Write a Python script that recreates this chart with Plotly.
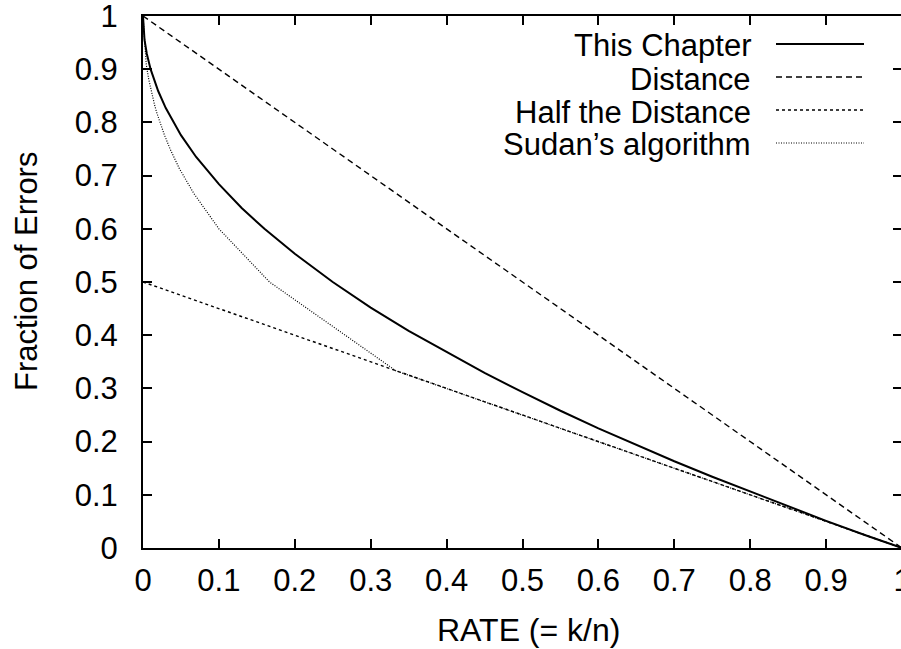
import plotly.graph_objects as go

# ---- data ----
rate_chapter = [0, 0.002, 0.005, 0.01, 0.02, 0.03, 0.05, 0.07, 0.1, 0.13, 0.16, 0.2,
                0.25, 0.3, 0.35, 0.4, 0.45, 0.5, 0.55, 0.6, 0.65, 0.7, 0.75, 0.8,
                0.85, 0.9, 0.95, 1.0]
err_chapter = [1.0, 0.955, 0.929, 0.90, 0.859, 0.827, 0.776, 0.735, 0.684, 0.639, 0.60,
               0.553, 0.50, 0.452, 0.408, 0.368, 0.329, 0.293, 0.258, 0.225, 0.194,
               0.163, 0.134, 0.106, 0.078, 0.051, 0.025, 0.0]

rate_distance = [0.0, 1.0]
err_distance = [1.0, 0.0]

rate_half = [0.0, 1.0]
err_half = [0.5, 0.0]

rate_sudan = [0.0, 0.0043, 0.0074, 0.011, 0.0152, 0.0182, 0.0222, 0.0278, 0.0357,
              0.0476, 0.0667, 0.1, 0.1667, 0.3333, 1.0]
err_sudan = [1.0, 0.909, 0.882, 0.857, 0.833, 0.818, 0.80, 0.778, 0.75,
             0.714, 0.667, 0.60, 0.50, 0.333, 0.0]

x_ticks = [0, 0.1, 0.2, 0.3, 0.4, 0.5, 0.6, 0.7, 0.8, 0.9, 1]
x_tick_text = ["0", "0.1", "0.2", "0.3", "0.4", "0.5", "0.6", "0.7", "0.8", "0.9", "1"]
y_ticks = [0, 0.1, 0.2, 0.3, 0.4, 0.5, 0.6, 0.7, 0.8, 0.9, 1]
y_tick_text = ["0", "0.1", "0.2", "0.3", "0.4", "0.5", "0.6", "0.7", "0.8", "0.9", "1"]

series_names = ["This Chapter", "Distance", "Half the Distance", "Sudan\u2019s algorithm"]

FONT = "Liberation Sans, Arial, Helvetica, sans-serif"
styles = [
    dict(color="black", width=2.0, dash="solid"),
    dict(color="black", width=1.4, dash="6px,4px"),
    dict(color="black", width=1.4, dash="3px,3px"),
    dict(color="black", width=1.2, dash="1px,1.5px"),
]

fig = go.Figure()
data = [(rate_chapter, err_chapter), (rate_distance, err_distance),
        (rate_half, err_half), (rate_sudan, err_sudan)]
for (xs, ys), name, st in zip(data, series_names, styles):
    fig.add_trace(go.Scatter(x=xs, y=ys, mode="lines", name=name, line=st,
                             showlegend=False, cliponaxis=True))

W, H = 902, 649
ml, mr, mt, mb = 143, 0, 16, 101
pw, ph = W - ml - mr, H - mt - mb


def px_x(p):
    return (p - ml) / pw


def px_y(p):
    return 1 - (p - mt) / ph


# custom legend: right-aligned text followed by a line sample
legend_y_px = [44, 77, 110, 143]
text_right_px = 753
sample_x0_px, sample_x1_px = 776, 864
annotations = []
shapes = []
for name, st, ypx in zip(series_names, styles, legend_y_px):
    annotations.append(dict(
        x=px_x(text_right_px), y=px_y(ypx + 2), xref="paper", yref="paper",
        text=name, showarrow=False, xanchor="right", yanchor="middle",
        font=dict(family=FONT, size=31, color="black")))
    shapes.append(dict(
        type="line", xref="paper", yref="paper",
        x0=px_x(sample_x0_px), x1=px_x(sample_x1_px), y0=px_y(ypx), y1=px_y(ypx),
        line=st))

# axis titles
annotations.append(dict(
    x=px_x(528), y=px_y(630), xref="paper", yref="paper", text="RATE (= k/n)",
    showarrow=False, xanchor="center", yanchor="middle",
    font=dict(family=FONT, size=32, color="black")))
annotations.append(dict(
    x=px_x(26), y=px_y(272), xref="paper", yref="paper", text="Fraction of Errors",
    showarrow=False, xanchor="center", yanchor="middle", textangle=-90,
    font=dict(family=FONT, size=31, color="black")))

axis_common = dict(
    showgrid=False, zeroline=False, showline=True, linecolor="black", linewidth=2,
    ticks="inside", ticklen=9, tickwidth=1.5, tickcolor="black", mirror="ticks",
    tickfont=dict(family=FONT, size=31, color="black"), automargin=False,
    ticklabeloverflow="allow",
)

fig.update_layout(
    width=W, height=H,
    margin=dict(l=ml, r=mr, t=mt, b=mb, pad=0),
    paper_bgcolor="white", plot_bgcolor="white",
    xaxis=dict(range=[0, 1], tickvals=x_ticks, ticktext=x_tick_text,
               ticklabelstandoff=4, **axis_common),
    yaxis=dict(range=[0, 1], tickvals=y_ticks, ticktext=y_tick_text,
               ticklabelstandoff=17, **axis_common),
    annotations=annotations, shapes=shapes,
    showlegend=False,
)

fig.write_html("out.html", config={"displayModeBar": False},
               post_script="document.body.style.margin='0';document.body.style.overflow='hidden';")
